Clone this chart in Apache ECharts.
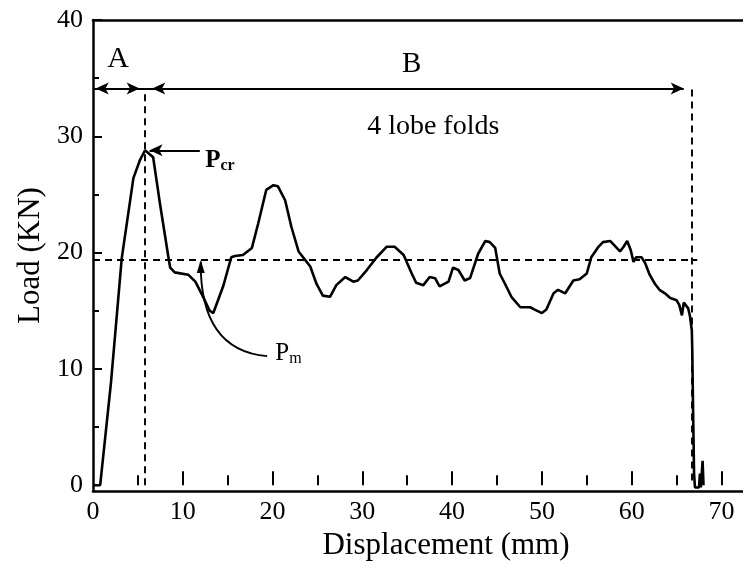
<!DOCTYPE html>
<html><head><meta charset="utf-8">
<script src="https://cdn.jsdelivr.net/npm/echarts@6/dist/echarts.min.js"></script>
<style>html,body{margin:0;padding:0;background:#fff}#c{width:743px;height:569px}</style>
</head><body><div id="c"></div>
<script>
// ---- data ----
const displacement = [0,0.8,1.0,2.0,3.2,4.5,5.2,5.8,6.7,7.5,8.4,8.6,9.1,10.6,11.4,12.2,13.0,13.4,14.5,15.4,15.8,16.7,17.7,18.4,19.3,20.1,20.6,21.4,22.1,22.9,24.2,24.9,25.6,26.4,27.1,28.1,29.0,29.5,30.5,31.6,32.7,33.6,34.6,35.5,36.0,36.8,37.5,38.1,38.6,39.6,40.1,40.7,41.4,42.0,42.9,43.7,44.2,44.8,45.3,45.9,46.6,47.6,48.7,49.2,50.0,50.5,51.3,51.8,52.6,53.5,54.2,55.0,55.5,56.3,56.8,57.6,58.1,58.7,59.1,59.5,59.9,60.2,60.5,61.1,61.5,62.0,62.6,63.1,63.7,64.3,65.0,65.3,65.6,65.8,66.3,66.5,66.7,66.75,66.85,66.95,67.05,67.5,67.6,67.7,67.85,67.9,68.0];
const load = [0,0,0,8.8,19.5,26.4,27.9,28.8,28.2,24.0,19.6,18.7,18.3,18.1,17.5,16.3,15.0,14.8,17.1,19.6,19.7,19.8,20.4,22.5,25.4,25.8,25.7,24.5,22.2,20.1,18.8,17.3,16.3,16.2,17.2,17.9,17.5,17.6,18.5,19.6,20.5,20.5,19.8,18.2,17.4,17.2,17.9,17.8,17.1,17.5,18.7,18.5,17.6,17.8,19.9,21.0,20.9,20.4,18.2,17.3,16.2,15.3,15.3,15.1,14.8,15.1,16.5,16.8,16.5,17.6,17.7,18.2,19.6,20.5,20.9,21.0,20.6,20.1,20.5,21.0,20.2,19.2,19.6,19.6,19.1,18.1,17.3,16.8,16.5,16.1,15.9,15.5,14.6,15.7,15.2,14.5,13.3,11.6,6.0,1.0,-0.2,-0.2,1.0,-0.2,-0.2,2.1,0.0];
const xMajorTicks = [10,20,30,40,50,60,70];
const xMinorTicks = [5,15,25,35,45,55,65];
const xTickLabels = [0,10,20,30,40,50,60,70];
const yMajorTicks = [10,20,30,40];
const yMinorTicks = [5,15,25,35];
const yTickLabels = [0,10,20,30,40];
const meanLoad = 19.4;          // P_m level
const peakX = 5.8, peakLoad = 28.8; // P_cr
const foldEndX = 66.7;
const zoneY = 34.1;              // A / B arrow line
const zoneASplit = [5.2, 6.6];
const zoneBEnd = 65.8;

const FONT = "'Liberation Serif','DejaVu Serif',serif";
const chart = echarts.init(document.getElementById('c'), null, {renderer:'canvas'});
const seriesData = displacement.map((x,i)=>[x, load[i]]);

const dashed = {color:'#000', width:1.9, type:[7,5]};
const solid = {color:'#000', width:1.9, type:'solid'};
const X_MAX = 72.4, Y_MIN = -0.5, Y_MAX = 40;

const tickAxisX = (vals, len) => ({type:'value', min:0, max:X_MAX, position:'bottom',
  axisLine:{show:false}, axisLabel:{show:false}, splitLine:{show:false},
  axisTick:{show:true, inside:true, length:len, customValues:vals, lineStyle:{color:'#000', width:2}}});
const tickAxisY = (vals, len) => ({type:'value', min:Y_MIN, max:Y_MAX, position:'left',
  axisLine:{show:false}, axisLabel:{show:false}, splitLine:{show:false},
  axisTick:{show:true, inside:true, length:len, customValues:vals, lineStyle:{color:'#000', width:2}}});

chart.setOption({
  animation:false,
  backgroundColor:'#fff',
  grid:{left:93, right:0, top:20, bottom:78, containLabel:false},
  xAxis:[
    {type:'value', min:0, max:X_MAX, position:'bottom',
     axisLine:{show:true, onZero:false, lineStyle:{color:'#000', width:2.5}},
     axisTick:{show:false},
     axisLabel:{show:true, customValues:xTickLabels, margin:8, color:'#000', fontSize:26, fontFamily:FONT},
     splitLine:{show:false},
     name:'Displacement (mm)', nameLocation:'middle', nameGap:33,
     nameTextStyle:{color:'#000', fontSize:31, fontFamily:FONT, padding:[0,0,0,56]}},
    tickAxisX(xMajorTicks, 14),
    tickAxisX(xMinorTicks, 10),
    {type:'value', min:0, max:X_MAX, position:'top',
     axisLine:{show:true, onZero:false, lineStyle:{color:'#000', width:2.5}},
     axisTick:{show:false}, axisLabel:{show:false}, splitLine:{show:false}}
  ],
  yAxis:[
    {type:'value', min:Y_MIN, max:Y_MAX, position:'left',
     axisLine:{show:true, onZero:false, lineStyle:{color:'#000', width:2.5}},
     axisTick:{show:false},
     axisLabel:{show:true, customValues:yTickLabels, margin:10, color:'#000', fontSize:26, fontFamily:FONT},
     splitLine:{show:false},
     name:'Load (KN)', nameLocation:'middle', nameGap:47, nameRotate:90,
     nameTextStyle:{color:'#000', fontSize:31, fontFamily:FONT}},
    tickAxisY(yMajorTicks, 9),
    tickAxisY(yMinorTicks, 6)
  ],
  series:[{
    type:'line', xAxisIndex:0, yAxisIndex:0, data:seriesData,
    showSymbol:false, symbol:'none', smooth:false,
    lineStyle:{color:'#000', width:2.6},
    silent:true,
    markLine:{
      silent:true, animation:false, label:{show:false}, emphasis:{disabled:true},
      symbol:['none','none'],
      data:[
        [{coord:[0,meanLoad], lineStyle:dashed},{coord:[67.3,meanLoad]}],
        [{coord:[peakX,0], lineStyle:dashed},{coord:[peakX,zoneY]}],
        [{coord:[foldEndX,0.4], lineStyle:dashed},{coord:[foldEndX,zoneY]}],
        [{coord:[0,zoneY], lineStyle:solid},{coord:[zoneBEnd,zoneY], symbol:'arrow', symbolSize:[9,13]}],
        [{coord:[0.3,zoneY], lineStyle:solid, symbol:'arrow', symbolSize:[9,13]},{coord:[zoneASplit[0],zoneY], symbol:'arrow', symbolSize:[9,13]}],
        [{coord:[zoneASplit[1],zoneY], lineStyle:solid, symbol:'arrow', symbolSize:[9,13]},{coord:[10,zoneY]}],
        [{coord:[11.9,peakLoad], lineStyle:solid},{coord:[6.3,peakLoad], symbol:'arrow', symbolSize:[9,13]}]
      ]
    }
  }]
});

// ---- annotations placed in data coordinates ----
const px = p => chart.convertToPixel({xAxisIndex:0, yAxisIndex:0}, p);
const pA = px([2.8,36.6]), pB = px([35.5,36.2]), pF = px([37.9,30.8]);
const pCr = px([12.5,27.9]), pM = px([20.3,11.3]);
const bStart = px([19.4,11.1]), bCtrl = px([11.9,11.6]), bEnd = px([12.0,19.2]);
const txt = (p, text, size, extra) => Object.assign({type:'text', x:p[0], y:p[1],
  style:{text:text, fill:'#000', font:size+'px '+FONT, align:'center', verticalAlign:'middle'}}, extra||{});
chart.setOption({graphic:[
  txt(pA,'A',30),
  txt(pB,'B',29),
  txt(pF,'4 lobe folds',28),
  {type:'text', x:pCr[0], y:pCr[1], style:{
    rich:{p:{font:'bold 25px '+FONT, fill:'#000'}, s:{font:'bold 16px '+FONT, fill:'#000', padding:[10,0,0,0]}},
    text:'{p|P}{s|cr}', align:'left', verticalAlign:'middle'}},
  {type:'text', x:pM[0], y:pM[1], style:{
    rich:{p:{font:'25px '+FONT, fill:'#000'}, s:{font:'16px '+FONT, fill:'#000', padding:[10,0,0,0]}},
    text:'{p|P}{s|m}', align:'left', verticalAlign:'middle'}},
  {type:'bezierCurve', shape:{x1:bStart[0], y1:bStart[1], cpx1:bCtrl[0], cpy1:bCtrl[1], x2:bEnd[0], y2:bEnd[1]},
   style:{stroke:'#000', lineWidth:1.9, fill:null}},
  {type:'polygon', shape:{points:[[bEnd[0],bEnd[1]-2],[bEnd[0]-4,bEnd[1]+11],[bEnd[0]+4,bEnd[1]+11]]},
   style:{fill:'#000'}}
]});
</script></body></html>
